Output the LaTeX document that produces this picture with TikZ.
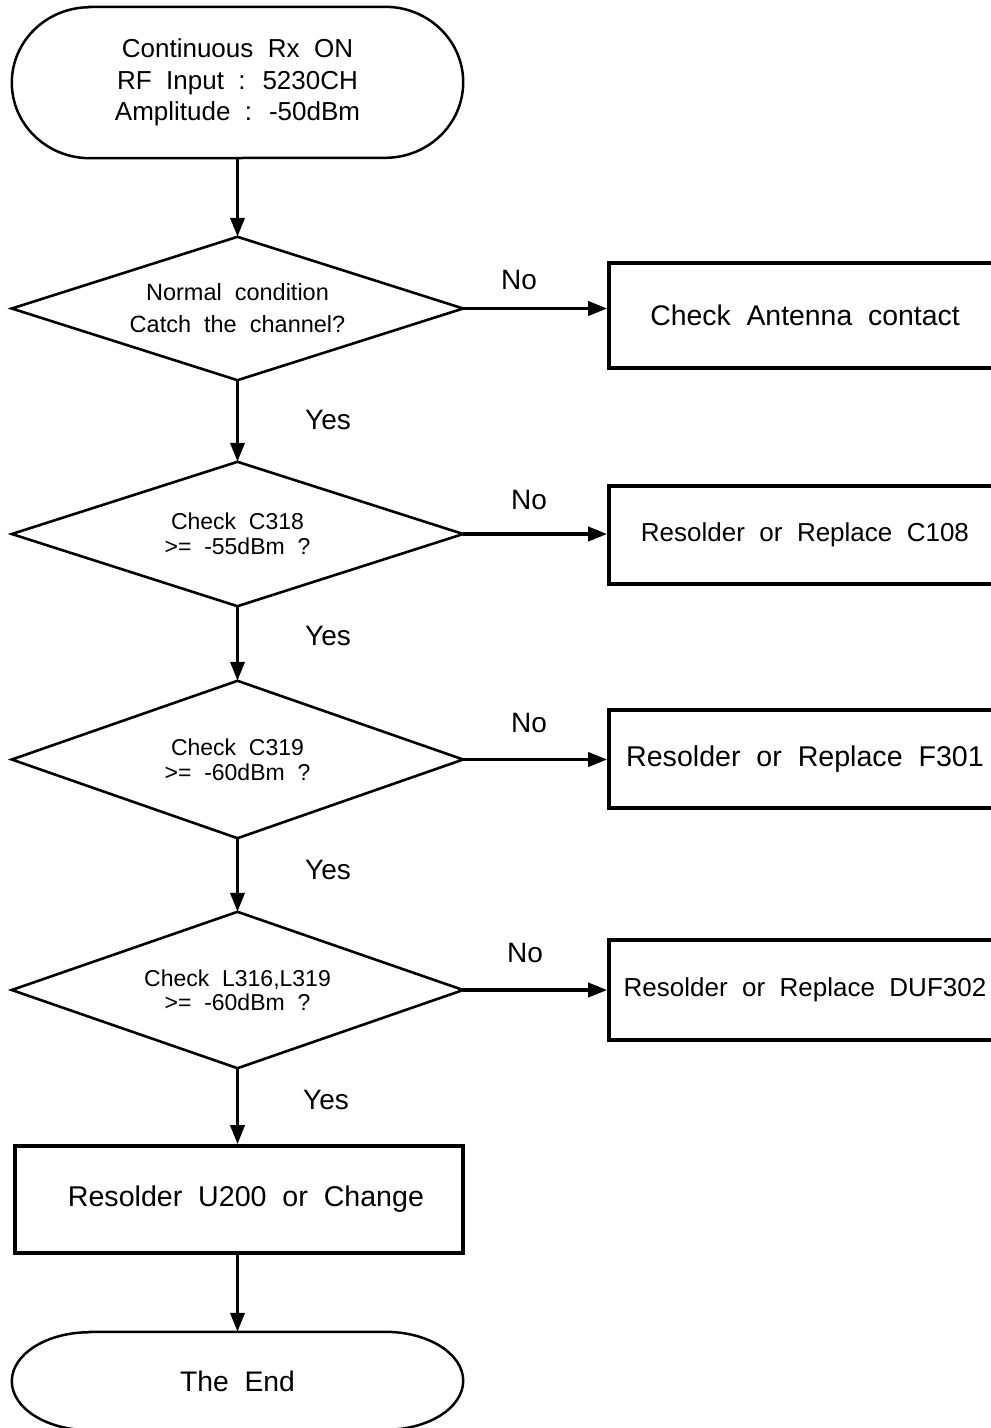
\documentclass[tikz,border=0pt]{standalone}
\usepackage{fontspec}
\setmainfont{Liberation Sans}[WordSpace=2]
\usetikzlibrary{arrows.meta}
\begin{document}
\begin{tikzpicture}[x=1pt,y=-1pt,
  dia/.style={rectangle, minimum width=451pt, inner sep=0pt, align=center},
  diaedge/.style={line width=2.6pt, line join=miter},
  box/.style={rectangle, draw, line width=3.6pt, align=center},
  term/.style={rectangle, minimum width=451pt, align=center},
  termline/.style={line width=2.5pt},
  arr/.style={line width=3.6pt, -{Triangle[length=19pt,width=14pt]}},
  lbl/.style={font=\fontsize{28}{30}\selectfont},
  fbig/.style={font=\fontsize{28.6}{30}\selectfont},
  fmid/.style={font=\fontsize{26}{30}\selectfont}
]
\path[use as bounding box] (0,0) rectangle (991,1428);
\clip (0,0) rectangle (991,1428);

% start terminator
\node[term, minimum height=151pt, font=\fontsize{26}{31.5}\selectfont] (start) at (237.5,82.5)
  {Continuous Rx ON\\RF Input : 5230CH\\Amplitude : -50dBm};
\draw[termline] ([xshift=78pt]start.north west) -- ([xshift=-78pt]start.north east)
  arc[start angle=90, end angle=-90, x radius=78pt, y radius=75.5pt]
  -- ([xshift=78pt]start.south west)
  arc[start angle=270, end angle=90, x radius=78pt, y radius=75.5pt] -- cycle;

% decisions
\node[dia, minimum height=143pt, font=\fontsize{23.5}{32}\selectfont] (d1) at (237.5,308.5)
  {Normal condition\\Catch the channel?};
\node[dia, minimum height=144pt, font=\fontsize{23}{25}\selectfont] (d2) at (237.5,534)
  {Check C318\\>= -55dBm ?};
\node[dia, minimum height=157pt, font=\fontsize{23}{25}\selectfont] (d3) at (237.5,759.5)
  {Check C319\\>= -60dBm ?};
\node[dia, minimum height=156pt, font=\fontsize{23}{24}\selectfont] (d4) at (237.5,990)
  {Check L316,L319\\>= -60dBm ?};
\foreach \d in {d1,d2,d3,d4}
  \draw[diaedge] (\d.north) -- (\d.east) -- (\d.south) -- (\d.west) -- cycle;

% right boxes
\node[box, minimum width=392pt, minimum height=105pt, font=\fontsize{28.4}{30}\selectfont] (b1) at (805,315.5)
  {Check Antenna contact};
\node[box, minimum width=392pt, minimum height=98pt, fmid] (b2) at (805,535)
  {Resolder or Replace C108};
\node[box, minimum width=392pt, minimum height=98pt, fbig] (b3) at (805,759)
  {Resolder or Replace F301};
\node[box, minimum width=392pt, minimum height=100pt, fmid] (b4) at (805,990)
  {Resolder or Replace DUF302};

% bottom box
\node[box, minimum width=448pt, minimum height=107pt, fbig] (b5) at (239,1199.5)
  {\hspace*{14pt}Resolder U200 or Change};

% end terminator
\node[term, minimum height=98pt, font=\fontsize{28.3}{30}\selectfont] (end) at (237.5,1381)
  {The End};
\draw[termline] ([xshift=78pt]end.north west) -- ([xshift=-78pt]end.north east)
  arc[start angle=90, end angle=-90, x radius=78pt, y radius=49pt]
  -- ([xshift=78pt]end.south west)
  arc[start angle=270, end angle=90, x radius=78pt, y radius=49pt] -- cycle;

% labels
\node[lbl] (no1) at (519,280) {No};
\node[lbl] (no2) at (529,500) {No};
\node[lbl] (no3) at (529,723) {No};
\node[lbl] (no4) at (525,953) {No};
\node[lbl] (yes1) at (328,420) {Yes};
\node[lbl] (yes2) at (328,636) {Yes};
\node[lbl] (yes3) at (328,870) {Yes};
\node[lbl] (yes4) at (326,1100) {Yes};

% connectors
\draw[arr] (start.south) -- (d1.north);
\draw[arr] (d1.south) -- (d2.north);
\draw[arr] (d2.south) -- (d3.north);
\draw[arr] (d3.south) -- (d4.north);
\draw[arr] (d4.south) -- (d4.south |- b5.north);
\draw[arr] (end.north |- b5.south) -- (end.north);
\draw[arr] (d1.east) -- (d1.east -| b1.west);
\draw[arr] (d2.east) -- (d2.east -| b2.west);
\draw[arr] (d3.east) -- (d3.east -| b3.west);
\draw[arr] (d4.east) -- (d4.east -| b4.west);
\end{tikzpicture}
\end{document}
